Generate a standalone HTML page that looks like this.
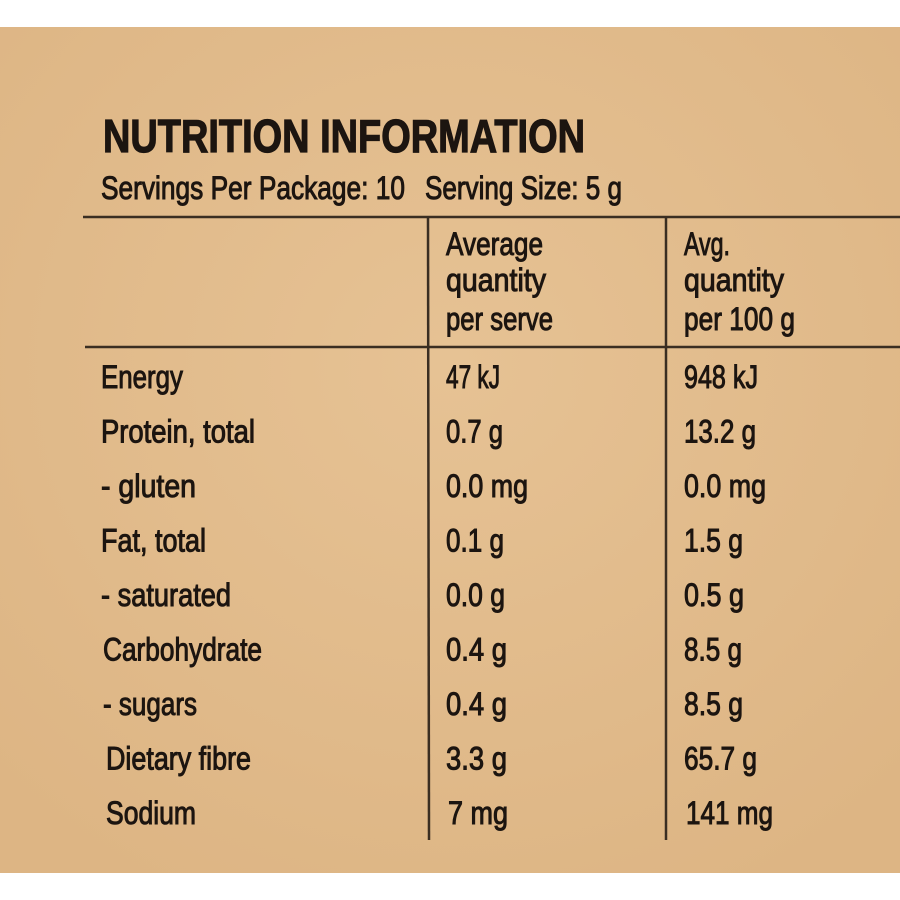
<!DOCTYPE html>
<html><head><meta charset="utf-8"><style>
html,body{margin:0;padding:0;background:#fff;}
svg{display:block}
text{font-family:"Liberation Sans Narrow","Liberation Sans",sans-serif;fill:#1c1510;}
.b{font-size:32px;stroke:#1c1510;stroke-width:1px}
</style></head><body>
<svg width="900" height="900" viewBox="0 0 900 900">
<defs>
<radialGradient id="bg" cx="50%" cy="40%" r="70%">
<stop offset="0" stop-color="#e6c294"/><stop offset="1" stop-color="#ddb584"/>
</radialGradient>
</defs>
<rect x="0" y="0" width="900" height="900" fill="#ffffff"/>
<rect x="0" y="27" width="900" height="846" fill="url(#bg)"/>
<text x="103" y="152" font-size="46" font-weight="bold" stroke="#1c1510" stroke-width="1.2" textLength="482" lengthAdjust="spacingAndGlyphs">NUTRITION INFORMATION</text>
<text class="b" x="101" y="199" font-size="31" textLength="304" lengthAdjust="spacingAndGlyphs">Servings Per Package: 10</text>
<text class="b" x="425" y="199" textLength="197" lengthAdjust="spacingAndGlyphs">Serving Size: 5 g</text>
<g stroke="#3a2e22" stroke-width="2.5">
<line x1="83" y1="217" x2="900" y2="217"/>
<line x1="85" y1="347" x2="900" y2="347"/>
<line x1="428" y1="217" x2="429" y2="840"/>
<line x1="666" y1="217" x2="666" y2="840"/>
</g>
<g>
<text class="b" x="446" y="255" textLength="97" lengthAdjust="spacingAndGlyphs">Average</text>
<text class="b" x="446" y="291" textLength="100" lengthAdjust="spacingAndGlyphs">quantity</text>
<text class="b" x="446" y="330" textLength="107" lengthAdjust="spacingAndGlyphs">per serve</text>
</g>
<g>
<text class="b" x="684" y="255" textLength="46" lengthAdjust="spacingAndGlyphs">Avg.</text>
<text class="b" x="684" y="291" textLength="100" lengthAdjust="spacingAndGlyphs">quantity</text>
<text class="b" x="684" y="330" textLength="111" lengthAdjust="spacingAndGlyphs">per 100 g</text>
</g>
<g id="rows"></g>
</svg>
<script>
const labels=["Energy","Protein, total","- gluten","Fat, total","- saturated","Carbohydrate","- sugars","Dietary fibre","Sodium"];
const perServe=["47 kJ","0.7 g","0.0 mg","0.1 g","0.0 g","0.4 g","0.4 g","3.3 g","7 mg"];
const per100=["948 kJ","13.2 g","0.0 mg","1.5 g","0.5 g","8.5 g","8.5 g","65.7 g","141 mg"];
const lw=[82,154,95,105,130,159,94,145,90];
const lx=[101,101,101,101,101,103,103,106,106];
const w2=[54,57,82,58,59,61,61,61,60];
const x2=[446,446,446,446,446,446,446,446,448];
const w3=[74,72,82,59,60,58,59,73,87];
const x3=[684,684,684,684,684,684,684,684,686];
const g=document.getElementById('rows');
const ns="http://www.w3.org/2000/svg";
function t(x,y,s,w,name){
  const e=document.createElementNS(ns,'text');
  e.setAttribute('class','b');
  e.setAttribute('x',x);e.setAttribute('y',y);
  e.setAttribute('textLength',w);e.setAttribute('lengthAdjust','spacingAndGlyphs');
  e.textContent=s;
  
  
  g.appendChild(e);
}
labels.forEach((l,i)=>{
  const y=388+i*54.5;
  t(lx[i],y,l,lw[i],'nutrient-label');
  t(x2[i],y,perServe[i],w2[i],'per-serve-value');
  t(x3[i],y,per100[i],w3[i],'per-100g-value');
});
</script>
</body></html>
